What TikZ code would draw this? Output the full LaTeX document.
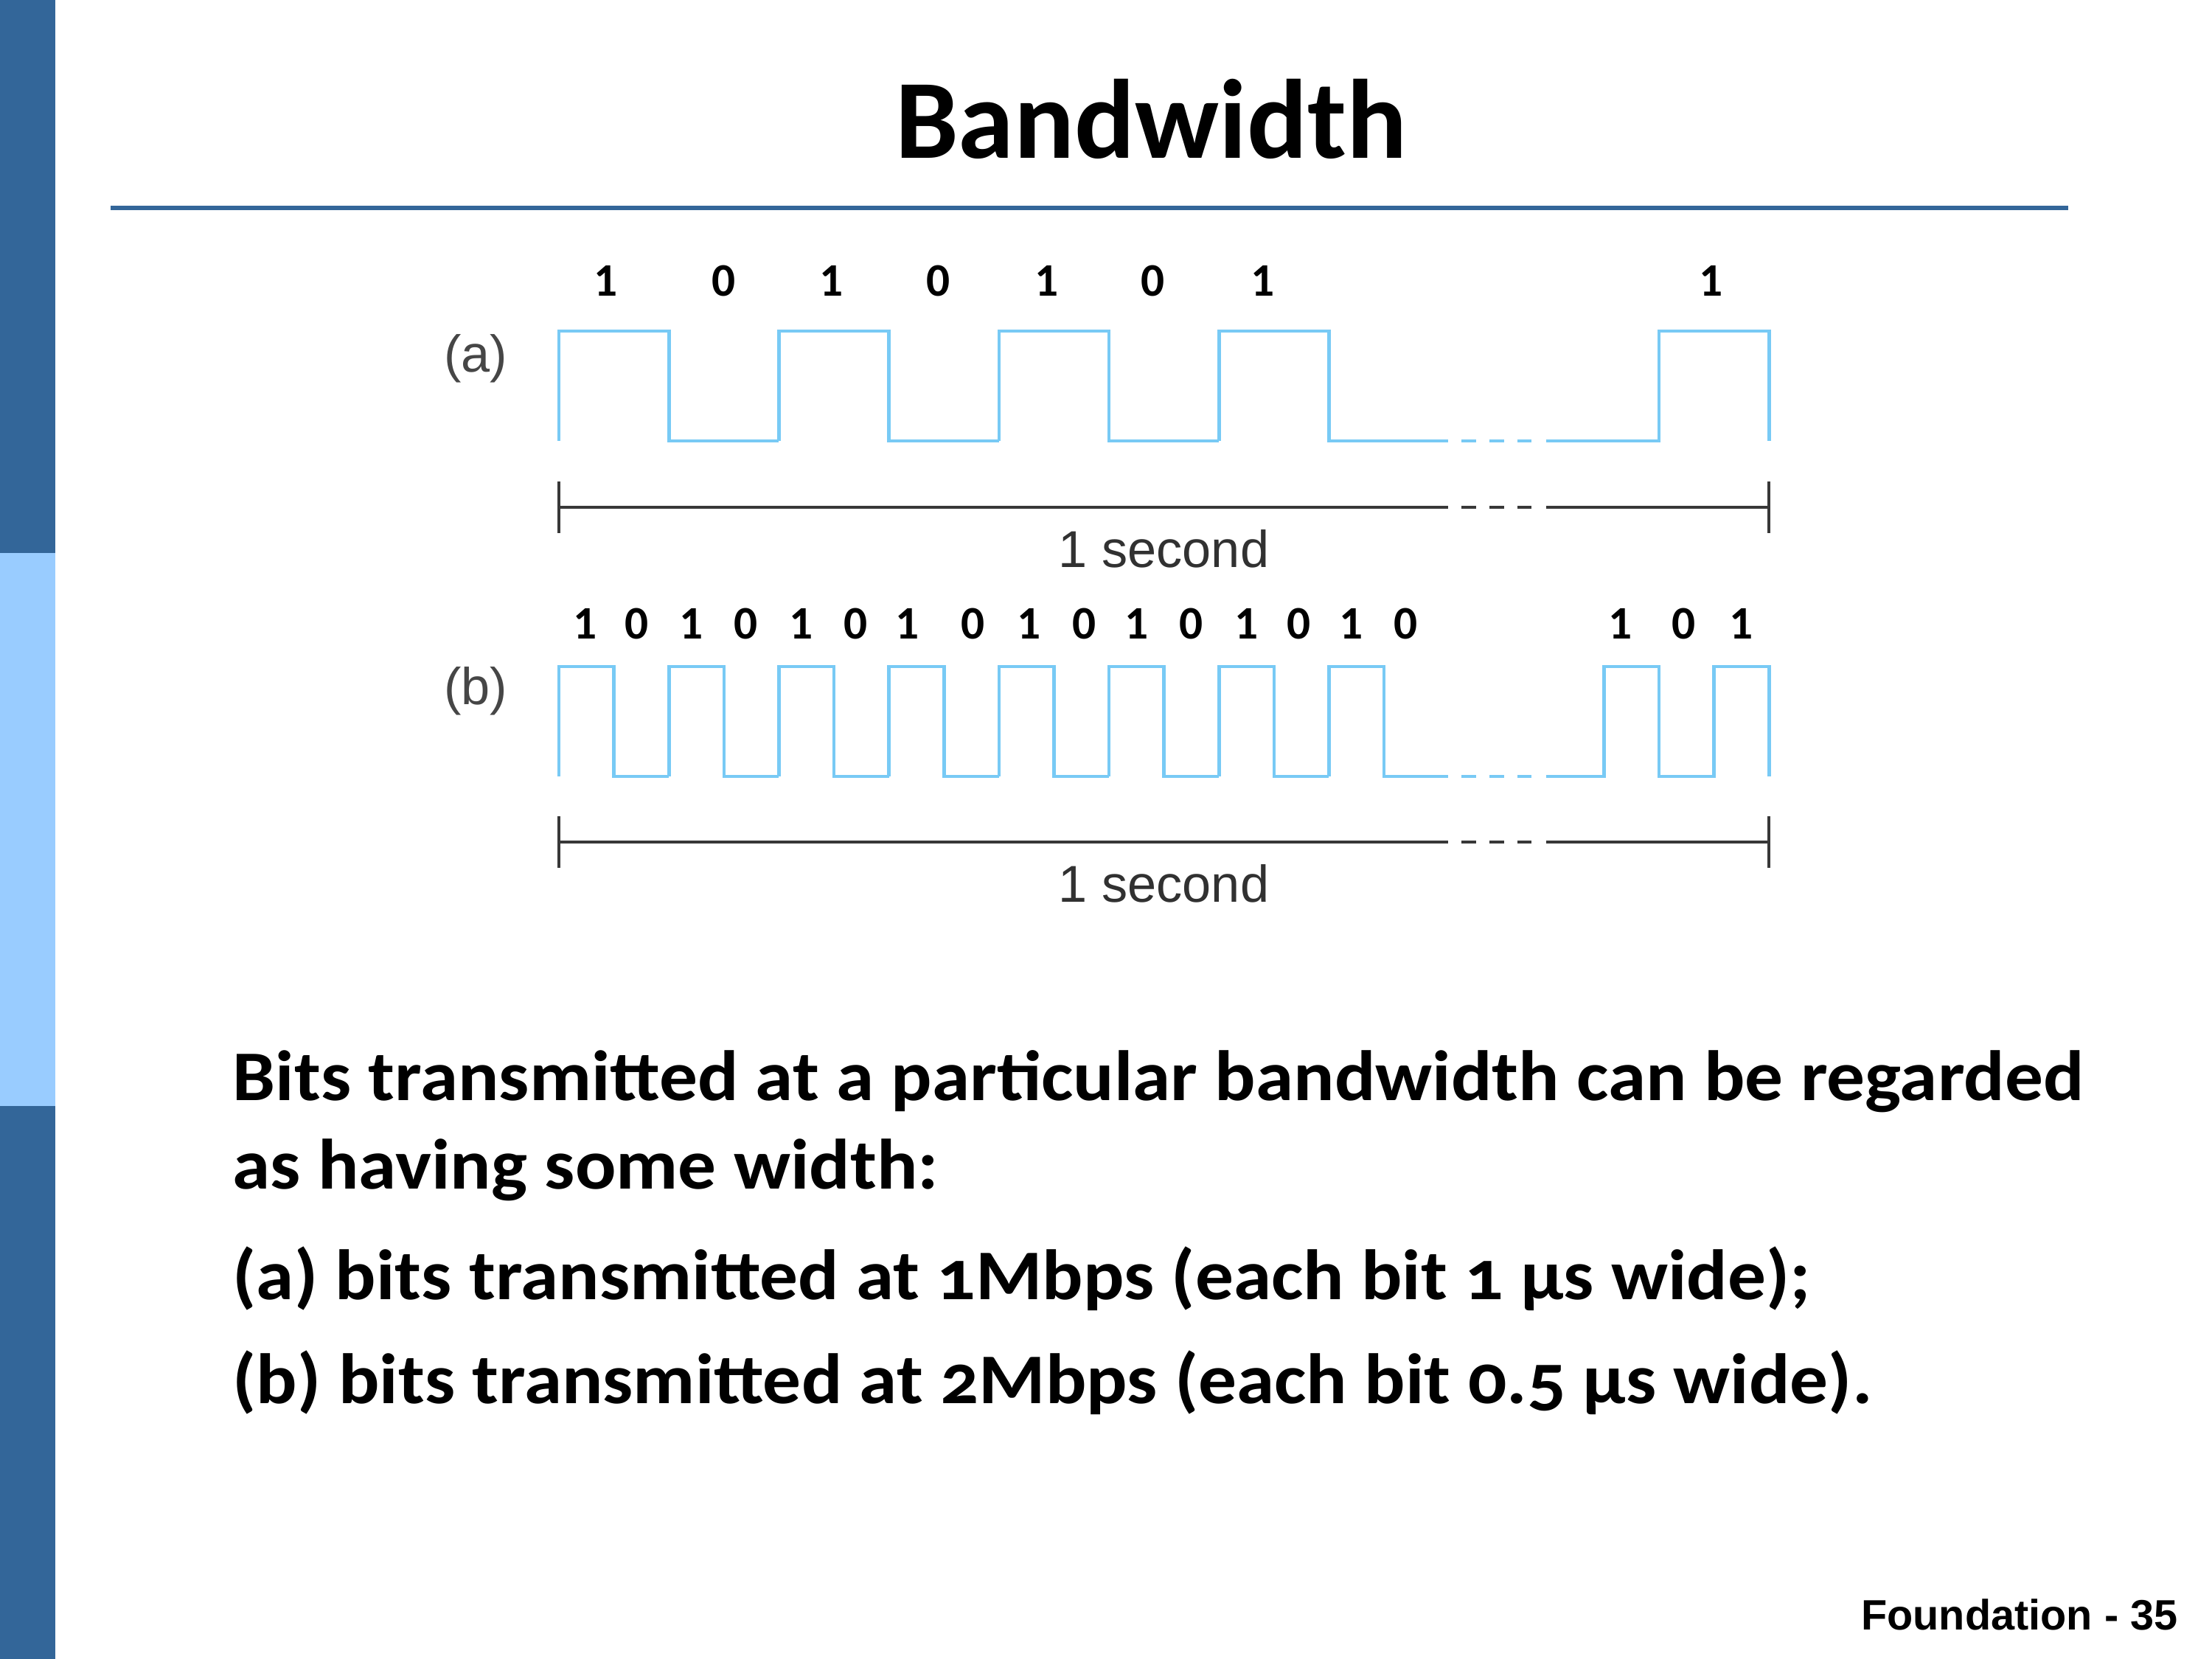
\documentclass[tikz,border=0pt]{standalone}
\usepackage{fontspec}
\setmainfont{Carlito}
\newfontfamily\bodyfont[Numbers=OldStyle, FakeStretch=1.07]{Carlito}
\newfontfamily\arialfont{Liberation Sans}
\usepackage{tikz}
\definecolor{mybar}{RGB}{51,102,153}
\definecolor{mylight}{RGB}{153,204,255}
\definecolor{mywave}{RGB}{120,202,245}
\definecolor{mygray}{RGB}{70,70,70}
\tikzset{
    wave/.style={draw=mywave, line width=1.3pt, line join=miter},
    dots/.style={wave, dash pattern=on 0.2cm off 0.18cm},
    span/.style={draw=mygray!80!black, line width=1.4pt},
    spandots/.style={span, dash pattern=on 0.2cm off 0.18cm},
    bit/.style={font=\fontsize{18}{18}\selectfont\bfseries, inner sep=0pt},
    tag/.style={font=\arialfont\fontsize{20}{20}\selectfont, text=mygray, inner sep=0pt},
    line/.style={anchor=base west, inner sep=0pt, font=\bodyfont\fontsize{27.5}{27.5}\selectfont\bfseries}
}

\begin{document}
\begin{tikzpicture}
    \useasboundingbox (0, 0) rectangle (30, -22.5);
    \fill[white] (0, 0) rectangle (30, -22.5);
    % Side bar
    \fill[mybar] (0, 0) rectangle (0.75, -7.5);
    \fill[mylight] (0, -7.5) rectangle (0.75, -15);
    \fill[mybar] (0, -15) rectangle (0.75, -22.5);
    % Title
    \node[anchor=base, inner sep=0pt, font=\fontsize{43.5}{43.5}\selectfont\bfseries]
        (title) at (15.61, -2.15) {Bandwidth};
    \draw[mybar, line width=0.06cm] (1.5, -2.82) -- (28.05, -2.82);
    \begin{scope}[xshift=7.58cm, x=0.746cm]
        \def\hiA{-4.49}
        \def\loA{-5.98}
        \def\hiB{-9.04}
        \def\loB{-10.53}
        % (a) one bit per two steps
        \foreach \k in {0, 4, 8, 12}
            \draw[wave] (\k, \loA) -- (\k, \hiA) -- (\k + 2, \hiA)
                -- (\k + 2, \loA) -- (\k + 4, \loA);
        \draw[wave] (16, \loA) -- (16.17, \loA);
        \draw[dots] (16.41, \loA) -- (17.68, \loA);
        \draw[wave] (17.95, \loA) -- (20, \loA) -- (20, \hiA) -- (22, \hiA) -- (22, \loA);
        % (b) one bit per step
        \foreach \k in {0, 2, ..., 14}
            \draw[wave] (\k, \loB) -- (\k, \hiB) -- (\k + 1, \hiB)
                -- (\k + 1, \loB) -- (\k + 2, \loB);
        \draw[wave] (16, \loB) -- (16.17, \loB);
        \draw[dots] (16.41, \loB) -- (17.68, \loB);
        \draw[wave] (17.95, \loB) -- (19, \loB) -- (19, \hiB) -- (20, \hiB)
            -- (20, \loB) -- (21, \loB) -- (21, \hiB) -- (22, \hiB) -- (22, \loB);
        % bit labels
        \foreach \x/\b [count=\i] in {0.85/1, 3/0, 4.95/1, 6.9/0, 8.87/1, 10.8/0,
                12.8/1, 20.95/1}
            \node[bit] (bitA\i) at (\x, -3.81) {\b};
        \foreach \x/\b [count=\i] in {0.47/1, 1.42/0, 2.4/1, 3.4/0, 4.4/1, 5.4/0,
                6.34/1, 7.53/0, 8.55/1, 9.55/0, 10.5/1, 11.5/0, 12.5/1, 13.45/0,
                14.4/1, 15.4/0, 19.3/1, 20.45/0, 21.5/1}
            \node[bit] (bitB\i) at (\x, -8.46) {\b};
        \node[tag] (tagA) at (-1.51, -4.86) {(a)};
        \node[tag] (tagB) at (-1.51, -9.37) {(b)};
        % 1 second spans
        \foreach \y/\n in {-6.88/A, -11.42/B} {
            \coordinate (L\n) at (0, \y);
            \coordinate (R\n) at (22, \y);
            \draw[span] (L\n) -- ++(16.17, 0);
            \draw[spandots] ([xshift=16.41*0.746cm] L\n) -- ([xshift=17.68*0.746cm] L\n);
            \draw[span] ([xshift=17.95*0.746cm] L\n) -- (R\n);
            \draw[span, line width=1.1pt] ([yshift=0.35cm] L\n) -- ([yshift=-0.35cm] L\n);
            \draw[span, line width=1.1pt] ([yshift=0.35cm] R\n) -- ([yshift=-0.35cm] R\n);
        }
        \node[tag, anchor=base, text=mygray!70!black] (secA) at (11, -7.70) {1 second};
        \node[tag, anchor=base, text=mygray!70!black] (secB) at (11, -12.23) {1 second};
    \end{scope}
    % Caption
    \node[line] (capA) at (3.15, -14.92) {Bits transmitted at a particular bandwidth can be regarded};
    \node[line] (capB) at (3.15, -16.12) {as having some width:};
    \node[line] (capC) at (3.15, -17.62) {(a) bits transmitted at 1Mbps (each bit 1 μs wide);};
    \node[line] (capD) at (3.15, -19.03) {(b) bits transmitted at 2Mbps (each bit 0.5 μs wide).};
    % Footer
    \node[anchor=base east, inner sep=0pt, font=\arialfont\fontsize{16.4}{16.4}\selectfont\bfseries]
        (foot) at (29.54, -22.10) {Foundation - 35};
\end{tikzpicture}
\end{document}
